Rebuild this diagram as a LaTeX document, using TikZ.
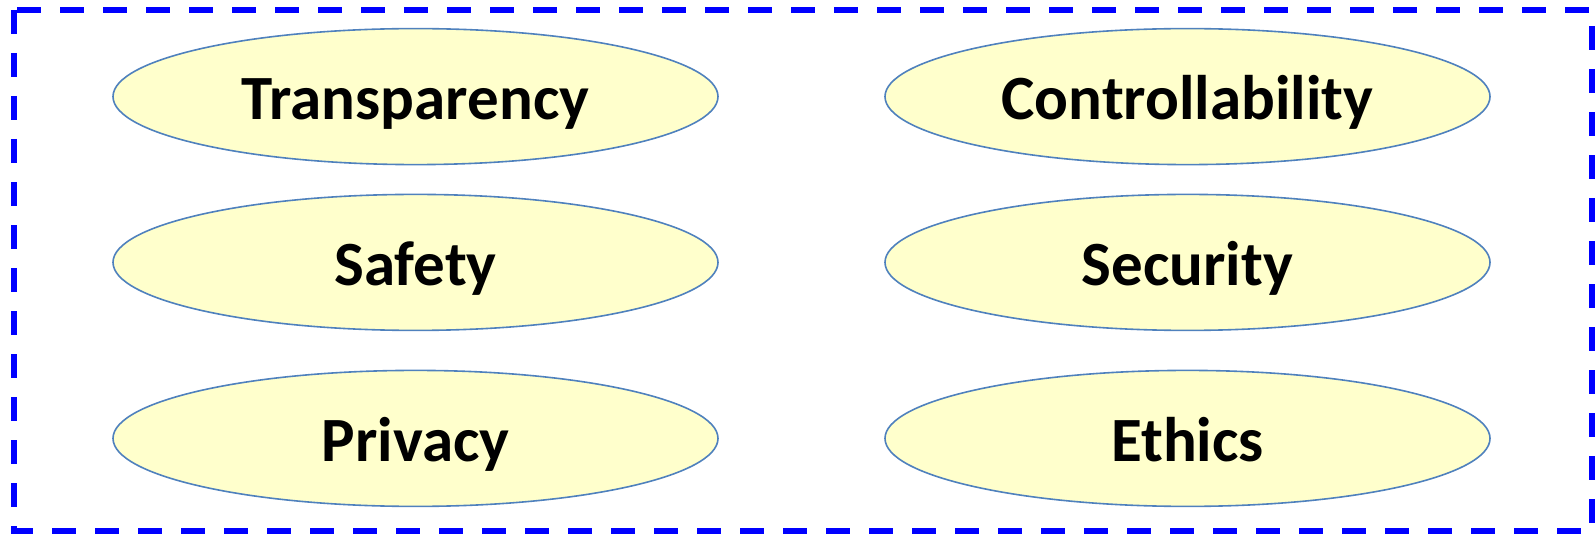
\documentclass[tikz,border=0pt]{standalone}
\usepackage{fontspec}
\setmainfont{Carlito}
\usetikzlibrary{shapes.geometric}
\definecolor{ovalfill}{HTML}{FFFFCC}
\definecolor{ovalline}{HTML}{4F81BD}
\definecolor{framecol}{HTML}{0000FF}
\tikzset{
  aspect/.style={ellipse, draw=ovalline, fill=ovalfill, line width=1.6bp,
    minimum width=605bp, minimum height=136bp, inner sep=0pt,
    font=\fontsize{63bp}{75bp}\selectfont\bfseries,
    text height=46.5bp, text depth=0bp},
  frame/.style={draw=framecol, line width=5.5bp, dash pattern=on 24bp off 19bp}
}
\begin{document}
\begin{tikzpicture}[x=1bp,y=-1bp]
  \useasboundingbox (0,0) rectangle (1595,534);
  \draw[frame] (14,10) rectangle (1592,531);
  \node[aspect] (transparency)    at (415.5,96.6)  {Transparency};
  \node[aspect] (controllability) at (1187.5,96.6) {Controllability};
  \node[aspect] (safety)          at (415.5,262.4) {Safety};
  \node[aspect] (security)        at (1187.5,262.4){Security};
  \node[aspect] (privacy)         at (415.5,438.4) {Privacy};
  \node[aspect] (ethics)          at (1187.5,438.4){Ethics};
\end{tikzpicture}
\end{document}
